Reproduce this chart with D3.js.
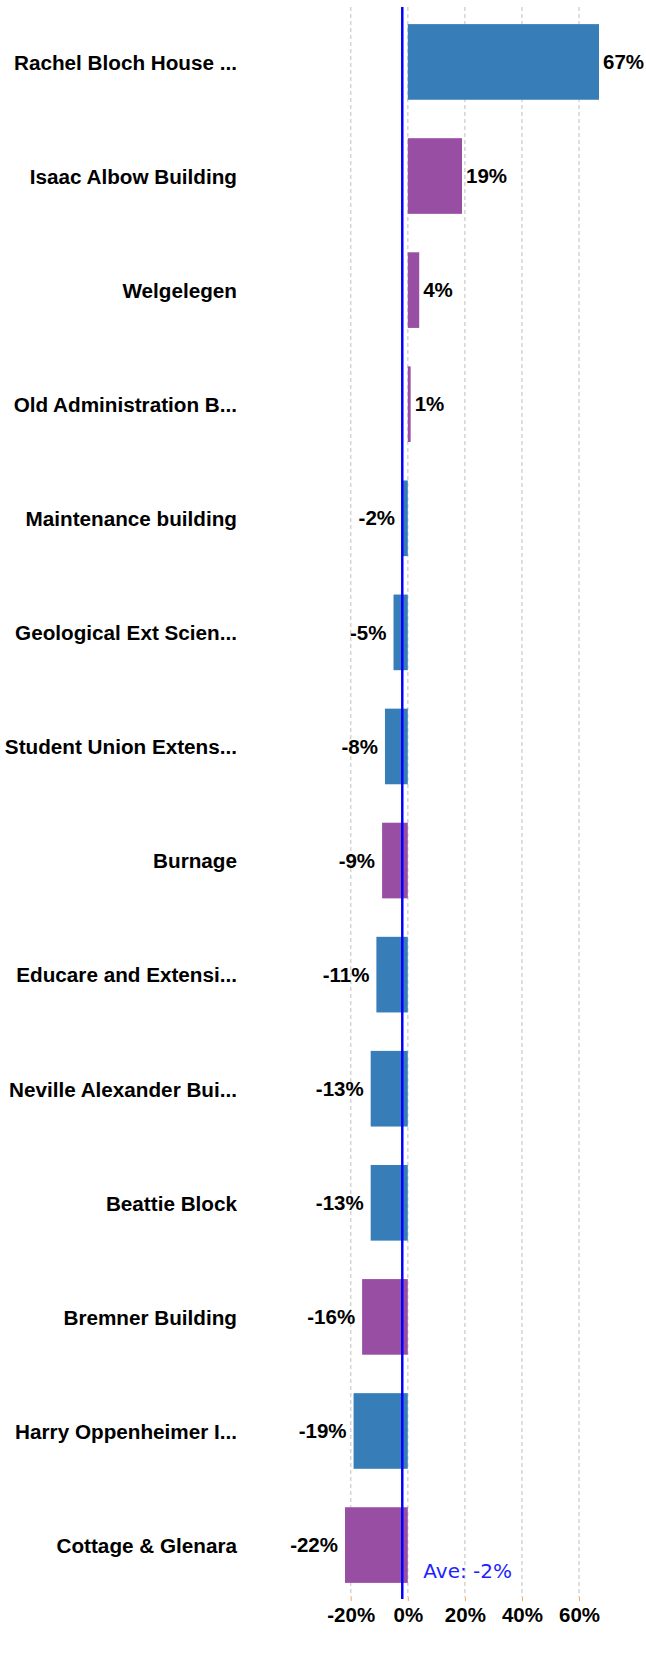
<!DOCTYPE html>
<html>
<head>
<meta charset="utf-8">
<script src="https://cdn.jsdelivr.net/npm/d3@7"></script>
<style>
  body { margin: 0; background: #fff; }
  svg text { font-family: "Liberation Sans", Arial, sans-serif; }
</style>
</head>
<body>
<svg class="chart" width="646" height="1654"></svg>
<script>
// data
const buildings = [
  'Rachel Bloch House ...', 'Isaac Albow Building', 'Welgelegen', 'Old Administration B...',
  'Maintenance building', 'Geological Ext Scien...', 'Student Union Extens...', 'Burnage',
  'Educare and Extensi...', 'Neville Alexander Bui...', 'Beattie Block', 'Bremner Building',
  'Harry Oppenheimer I...', 'Cottage & Glenara'
]
const change = [67, 19, 4, 1, -2, -5, -8, -9, -11, -13, -13, -16, -19, -22]
const group = ['blue', 'purple', 'purple', 'purple', 'blue', 'blue', 'blue', 'purple',
  'blue', 'blue', 'blue', 'purple', 'blue', 'purple']
const groupColor = {blue: '#377eb8', purple: '#984ea3'}

const rows = buildings.map((name, i) => ({name, value: change[i], group: group[i]}))

const svg = d3.select('.chart')

const x = d3.scaleLinear()
  .domain(d3.extent(change))
  .range([345, 599])

const y = d3.scaleBand()
  .domain(buildings)
  .range([7, 1600])
  .paddingInner(0.337)
  .paddingOuter(0.15)

const axisY = 1597

// dashed grid
svg.append('g')
  .selectAll('line')
  .data(x.ticks(5))
  .enter().append('line')
    .attr('x1', d => x(d)).attr('x2', d => x(d))
    .attr('y1', 7).attr('y2', axisY)
    .attr('stroke', '#d4d4d4')
    .attr('stroke-width', 1.5)
    .attr('stroke-dasharray', '4,3')

// bars
svg.append('g')
  .selectAll('rect')
  .data(rows)
  .enter().append('rect')
    .attr('x', d => x(Math.min(0, d.value)))
    .attr('width', d => Math.abs(x(d.value) - x(0)))
    .attr('y', d => y(d.name))
    .attr('height', y.bandwidth())
    .attr('fill', d => groupColor[d.group])

// value labels
svg.append('g')
  .selectAll('text')
  .data(rows)
  .enter().append('text')
    .attr('x', d => d.value >= 0 ? x(d.value) + 4 : x(d.value) - 7)
    .attr('y', d => y(d.name) + y.bandwidth() / 2)
    .attr('dy', '0.35em')
    .attr('text-anchor', d => d.value >= 0 ? 'start' : 'end')
    .attr('font-size', 20.5)
    .attr('font-weight', 'bold')
    .attr('fill', '#000')
    .text(d => d.value + '%')

// category labels
svg.append('g')
  .selectAll('text')
  .data(rows)
  .enter().append('text')
    .attr('x', 237)
    .attr('y', d => y(d.name) + y.bandwidth() / 2)
    .attr('dy', '0.38em')
    .attr('text-anchor', 'end')
    .attr('font-size', 20.7)
    .attr('font-weight', 'bold')
    .attr('fill', '#000')
    .text(d => d.name)

// x axis
const xAxis = svg.append('g')
  .attr('transform', `translate(0,${axisY})`)
  .call(d3.axisBottom(x).ticks(5).tickSize(4).tickPadding(6).tickFormat(d => d + '%'))
xAxis.select('.domain').remove()
xAxis.selectAll('line').attr('stroke', '#f4a460')
xAxis.selectAll('text')
  .attr('font-size', 20.5)
  .attr('font-weight', 'bold')
  .attr('font-family', '"Liberation Sans", Arial, sans-serif')
  .attr('fill', '#000')

// average line
const avg = d3.mean(change)
svg.append('line')
  .attr('x1', x(avg)).attr('x2', x(avg))
  .attr('y1', 7).attr('y2', axisY + 2)
  .attr('stroke', '#0000ff')
  .attr('stroke-width', 2.5)

svg.append('text')
  .attr('x', x(avg) + 21)
  .attr('y', 1578)
  .attr('fill', '#1f1fff')
  .attr('font-size', 20)
  .style('font-family', '"DejaVu Sans", Verdana, sans-serif')
  .text('Ave: ' + Math.round(avg) + '%')
</script>
</body>
</html>
